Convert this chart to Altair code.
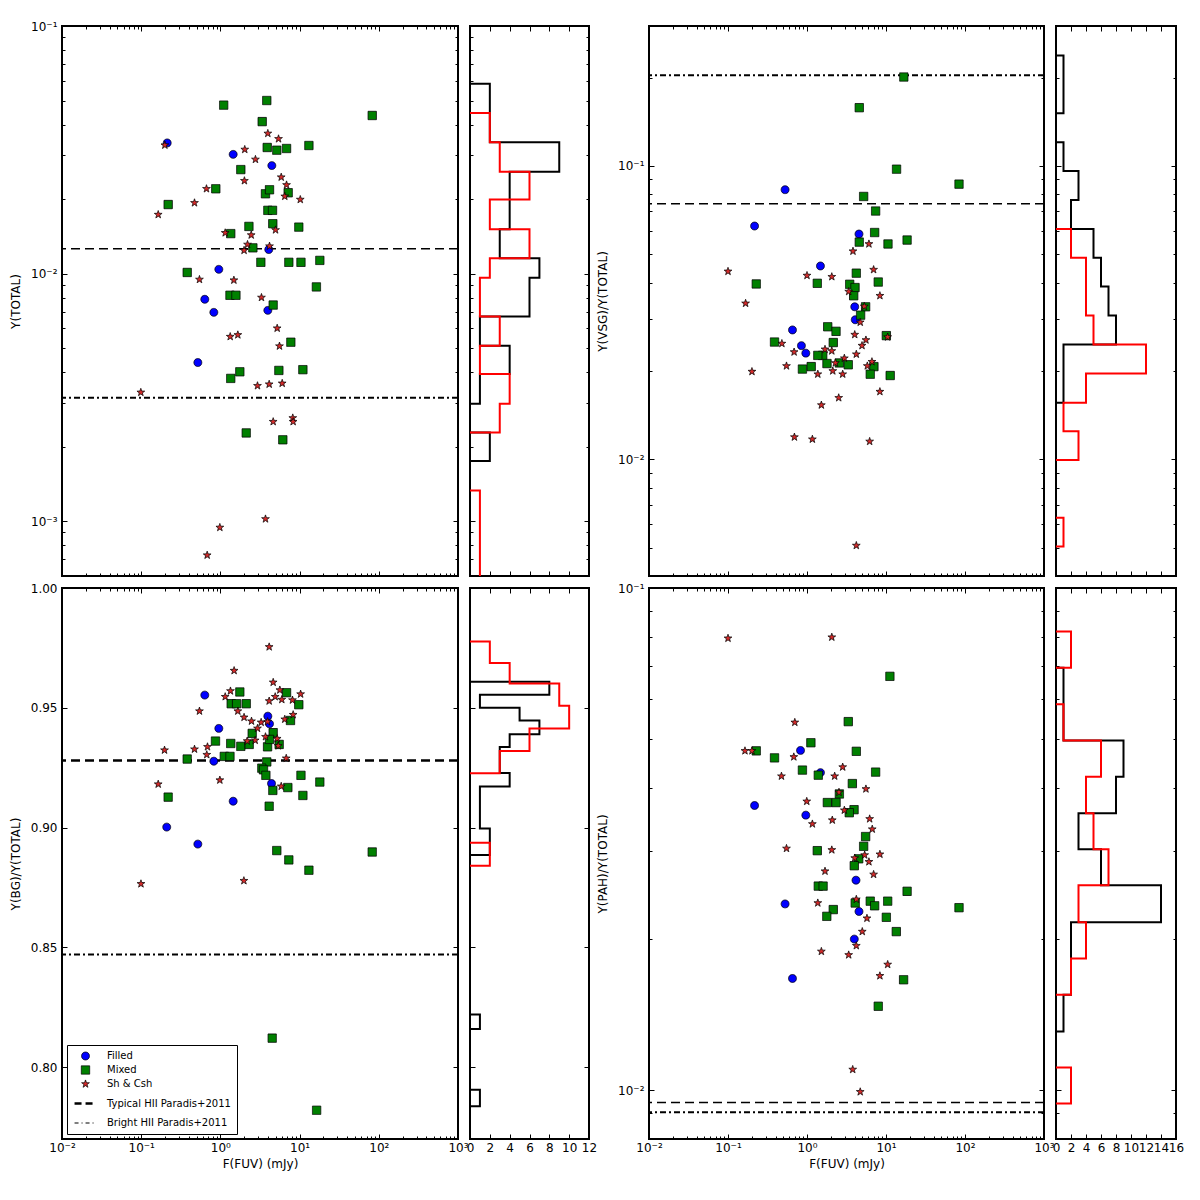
import altair as alt
import pandas as pd

# ---------------- categories / styles ----------------
SERIES = ["Filled", "Mixed", "Sh & Csh", "Typical HII Paradis+2011", "Bright HII Paradis+2011"]
COLORS = ["#0000ff", "#008000", "#d42a2a", "#000000", "#000000"]
STAR = ("M0,-1L0.235,-0.324L0.951,-0.309L0.38,0.124L0.588,0.809L0,0.4"
        "L-0.588,0.809L-0.38,0.124L-0.951,-0.309L-0.235,-0.324Z")
SHAPES = ["circle", "square", STAR, "stroke", "stroke"]
SIZES = [62, 70, 66, 480, 480]
EDGE_W = [0.8, 0.8, 0.8, 2.5, 1.2]
DASHES = [[1, 0], [1, 0], [1, 0], [7, 4], [4, 3, 1, 3]]

# ---------------- panel 1 : Y(TOTAL) ----------------
tl_filled_x = [0.213, 1.45, 4.46, 4.08, 0.955, 0.635, 0.826, 3.97, 0.519]
tl_filled_y = [0.0337, 0.0303, 0.0273, 0.0125, 0.0104, 0.00787, 0.00697, 0.00710, 0.00437]
tl_mixed_x = [1.10, 3.85, 82.6, 3.37, 3.90, 5.15, 6.84, 13.1, 1.81, 0.875, 0.219, 3.71, 4.17,
              7.18, 3.97, 4.55, 4.59, 2.29, 9.77, 1.35, 2.57, 3.24, 7.31, 10.4, 18.0, 0.381,
              16.3, 1.32, 1.57, 4.64, 7.75, 1.76, 1.35, 5.47, 11.0, 2.12, 6.14]
tl_mixed_y = [0.0479, 0.0500, 0.0435, 0.0411, 0.0323, 0.0315, 0.0320, 0.0329, 0.0263, 0.0220,
              0.0190, 0.0210, 0.0218, 0.0212, 0.0180, 0.0180, 0.0159, 0.0155, 0.0154, 0.0145,
              0.0127, 0.0111, 0.0111, 0.0111, 0.0113, 0.0101, 0.00883, 0.00817, 0.00817,
              0.00746, 0.00528, 0.00401, 0.00377, 0.00406, 0.00409, 0.00227, 0.00213]
tl_sh_x = [0.199, 3.97, 5.42, 2.03, 2.77, 5.86, 2.01, 6.84, 0.667, 6.50, 10.2, 0.471, 0.164,
           1.15, 4.97, 2.45, 2.20, 1.99, 4.17, 0.544, 1.48, 3.30, 5.21, 1.33, 1.66, 5.57, 2.94,
           4.13, 6.03, 0.0989, 4.64, 8.20, 8.29, 3.71, 0.984, 0.681]
tl_sh_y = [0.0330, 0.0368, 0.0350, 0.0317, 0.0289, 0.0245, 0.0237, 0.0228, 0.0220, 0.0205,
           0.0199, 0.0193, 0.0173, 0.0146, 0.0150, 0.0143, 0.0131, 0.0124, 0.0129, 0.00946,
           0.00940, 0.00800, 0.00601, 0.00556, 0.00565, 0.00509, 0.00352, 0.00357, 0.00360,
           0.00331, 0.00252, 0.00261, 0.00252, 0.00102, 0.000942, 0.000728]
tl_lines = [0.0126, 0.00315]
tl_hist_edges = [0.0585, 0.0445, 0.0339, 0.0258, 0.0199, 0.0151, 0.01153, 0.00961, 0.00670,
                 0.00511, 0.00393, 0.00298, 0.00228, 0.00175, 0.00133, 0.0005]
tl_hist_black = [2, 2, 9, 4, 4, 3, 7, 6, 1, 4, 1, 0, 2, 0, 0]
tl_hist_red = [0, 2, 3, 6, 2, 6, 2, 1, 3, 1, 4, 3, 0, 0, 1]

# ---------------- panel 2 : Y(VSG)/Y(TOTAL) ----------------
tr_filled_x = [0.528, 0.217, 4.55, 1.48, 4.02, 4.08, 0.655, 0.850, 0.966]
tr_filled_y = [0.0830, 0.0624, 0.0586, 0.0456, 0.0331, 0.0299, 0.0276, 0.0244, 0.0230]
tr_mixed_x = [16.8, 4.59, 13.6, 84.0, 5.21, 7.39, 7.18, 4.59, 10.6, 18.5, 4.21, 7.98, 0.228,
              1.35, 3.47, 4.05, 3.90, 5.52, 4.77, 10.1, 1.83, 2.33, 0.388, 2.15, 1.58, 1.37,
              0.875, 1.13, 1.79, 2.57, 3.33, 7.03, 6.32, 11.3]
tr_mixed_y = [0.201, 0.158, 0.0975, 0.0867, 0.0787, 0.0702, 0.0593, 0.0550, 0.0542, 0.0559,
              0.0431, 0.0402, 0.0396, 0.0398, 0.0395, 0.0385, 0.0361, 0.0331, 0.0310, 0.0264,
              0.0283, 0.0273, 0.0251, 0.0250, 0.0226, 0.0226, 0.0203, 0.0207, 0.0212, 0.0213,
              0.0210, 0.0207, 0.0195, 0.0193]
tr_sh_x = [0.100, 0.167, 6.08, 3.82, 6.97, 1.00, 2.06, 3.37, 8.37, 5.31, 4.72, 4.02, 10.5, 5.57,
           4.97, 0.481, 0.687, 1.69, 2.06, 4.21, 2.97, 0.550, 0.201, 2.29, 2.12, 1.37, 2.83,
           6.64, 5.80, 8.37, 2.52, 1.52, 0.693, 1.17, 6.21, 4.21]
tr_sh_y = [0.0437, 0.0340, 0.0542, 0.0512, 0.0443, 0.0423, 0.0419, 0.0373, 0.0361, 0.0332,
           0.0293, 0.0266, 0.0261, 0.0255, 0.0244, 0.0248, 0.0232, 0.0237, 0.0234, 0.0228,
           0.0221, 0.0208, 0.0199, 0.0213, 0.0200, 0.0195, 0.0195, 0.0215, 0.0208, 0.0170,
           0.0162, 0.0153, 0.0119, 0.0117, 0.0115, 0.00508]
tr_lines = [0.0743, 0.204]
tr_hist_edges = [0.2379, 0.1897, 0.1512, 0.1205, 0.0961, 0.0766, 0.0610, 0.0486, 0.0388,
                 0.0309, 0.0246, 0.0196, 0.0156, 0.01247, 0.00994, 0.00793, 0.00632, 0.00504]
tr_hist_black = [1, 1, 0, 1, 3, 2, 5, 6, 7, 8, 1, 1, 0, 0, 0, 0, 0]
tr_hist_red = [0, 0, 0, 0, 0, 0, 2, 4, 4, 5, 12, 4, 1, 3, 0, 0, 1]

# ---------------- panel 3 : Y(BG)/Y(TOTAL) ----------------
bl_filled_x = [0.635, 3.97, 4.17, 0.955, 0.826, 4.42, 1.45, 0.210, 0.519]
bl_filled_y = [0.9553, 0.9465, 0.9433, 0.9414, 0.9277, 0.9184, 0.9110, 0.9002, 0.8931]
bl_mixed_x = [1.76, 6.84, 1.37, 1.60, 2.12, 9.77, 7.67, 4.64, 2.52, 0.867, 1.35, 1.81, 2.31,
              3.94, 5.52, 4.17, 1.12, 1.32, 0.381, 3.85, 3.33, 3.50, 3.75, 10.4, 18.0, 7.10,
              4.59, 11.0, 0.219, 4.13, 5.15, 82.6, 7.31, 13.1, 4.51, 16.4]
bl_mixed_y = [0.9566, 0.9563, 0.9517, 0.9517, 0.9517, 0.9513, 0.9447, 0.9396, 0.9393, 0.9361,
              0.9351, 0.9339, 0.9347, 0.9337, 0.9347, 0.9368, 0.9297, 0.9297, 0.9286, 0.9274,
              0.9248, 0.9241, 0.9218, 0.9218, 0.9190, 0.9167, 0.9155, 0.9134, 0.9127, 0.9089,
              0.8904, 0.8898, 0.8865, 0.8822, 0.8121, 0.782]
bl_sh_x = [4.13, 1.49, 4.64, 1.34, 1.15, 5.63, 10.3, 4.92, 4.13, 5.96, 8.13, 0.544, 1.66, 1.99,
           2.47, 3.27, 3.94, 6.50, 8.29, 2.94, 3.71, 5.21, 5.37, 2.75, 2.18, 0.197, 0.471,
           0.687, 0.673, 6.78, 0.164, 0.984, 5.86, 0.0993, 1.98]
bl_sh_y = [0.9754, 0.9655, 0.9606, 0.9570, 0.9546, 0.9574, 0.9557, 0.9546, 0.9528, 0.9534,
           0.9532, 0.9486, 0.9486, 0.9460, 0.9444, 0.9439, 0.9442, 0.9452, 0.9471, 0.9414,
           0.9379, 0.9371, 0.9341, 0.9364, 0.9361, 0.9323, 0.9327, 0.9337, 0.9304, 0.9289,
           0.9181, 0.9198, 0.9172, 0.8765, 0.8778]
bl_lines = [0.928, 0.847]
bl_hist_black_edges = [0.9609, 0.9554, 0.9500, 0.9447, 0.9389, 0.9336, 0.9282, 0.9228, 0.9171,
                       0.9114, 0.9056, 0.8996, 0.8942, 0.8886, 0.8220, 0.8159, 0.7906, 0.7837]
bl_hist_black = [8, 1, 5, 7, 4, 3, 3, 4, 1, 1, 1, 2, 2, 0, 1, 0, 1]
bl_hist_red_edges = [0.9777, 0.9687, 0.9601, 0.9508, 0.9414, 0.9320, 0.9227, 0.8937, 0.8841]
bl_hist_red = [2, 4, 9, 10, 6, 3, 0, 2]

# ---------------- panel 4 : Y(PAH)/Y(TOTAL) ----------------
br_filled_x = [0.828, 1.48, 0.217, 0.966, 4.17, 0.528, 4.55, 3.97, 0.655]
br_filled_y = [0.0475, 0.0429, 0.0369, 0.0353, 0.0262, 0.0235, 0.0227, 0.0200, 0.0167]
br_mixed_x = [11.2, 3.33, 1.12, 0.228, 0.388, 4.21, 0.875, 1.39, 7.39, 3.75, 2.57, 1.81, 2.33,
              3.94, 3.43, 5.52, 5.21, 1.35, 4.51, 3.97, 1.39, 1.60, 18.5, 4.08, 6.32, 7.18,
              10.5, 84.0, 2.15, 1.78, 10.1, 13.5, 16.7, 7.98]
br_mixed_y = [0.0667, 0.0542, 0.0492, 0.0474, 0.0459, 0.0473, 0.0434, 0.0424, 0.0430, 0.0408,
              0.0389, 0.0374, 0.0374, 0.0362, 0.0357, 0.0320, 0.0306, 0.0300, 0.0289, 0.0280,
              0.0255, 0.0255, 0.0249, 0.0236, 0.0238, 0.0233, 0.0238, 0.0231, 0.0229, 0.0222,
              0.0221, 0.0207, 0.0166, 0.0147]
br_sh_x = [0.100, 2.06, 0.701, 0.164, 0.201, 0.681, 2.83, 0.475, 2.24, 5.57, 2.54, 0.993, 2.97,
           6.21, 6.70, 1.17, 2.09, 0.550, 2.06, 8.37, 5.37, 4.02, 6.08, 1.69, 6.97, 1.37, 4.21,
           5.74, 5.01, 4.21, 1.52, 3.37, 10.5, 8.37, 3.79, 4.72]
br_sh_y = [0.0794, 0.0798, 0.0540, 0.0474, 0.0474, 0.0461, 0.0440, 0.0422, 0.0422, 0.0398,
           0.0392, 0.0376, 0.0361, 0.0347, 0.0331, 0.0339, 0.0345, 0.0303, 0.0301, 0.0295,
           0.0294, 0.0290, 0.0285, 0.0273, 0.0269, 0.0236, 0.0240, 0.0220, 0.0207, 0.0194,
           0.0189, 0.0186, 0.0178, 0.0169, 0.0110, 0.00993]
br_lines = [0.00946, 0.00904]
br_hist_edges = [0.0819, 0.0694, 0.0587, 0.0497, 0.0421, 0.0356, 0.0302, 0.0256, 0.0216,
                 0.0183, 0.0155, 0.0131, 0.0111, 0.00941]
br_hist_black = [0, 1, 1, 9, 8, 3, 6, 14, 2, 2, 1, 0, 0]
br_hist_red = [2, 0, 1, 6, 4, 5, 7, 3, 4, 2, 0, 0, 2]

# ---------------- axis tick positions ----------------
X_MAJOR = [0.01, 0.1, 1, 10, 100, 1000]
X_MINOR = [k * 10.0 ** d for d in range(-2, 3) for k in range(2, 10)]
TL_Y_MAJOR = [0.001, 0.01, 0.1]
TL_Y_MINOR = [0.0006, 0.0007, 0.0008, 0.0009] + [k * 0.001 for k in range(2, 10)] + [k * 0.01 for k in range(2, 10)]
TR_Y_MAJOR = [0.01, 0.1]
TR_Y_MINOR = [k * 0.001 for k in range(4, 10)] + [k * 0.01 for k in range(2, 10)] + [0.2]
BR_Y_MAJOR = [0.01, 0.1]
BR_Y_MINOR = [0.008, 0.009] + [k * 0.01 for k in range(2, 10)]
BL_Y_MAJOR = [0.80, 0.85, 0.90, 0.95, 1.00]

POW = ("datum.value < 0.005 ? '10\u207b\u00b3' : datum.value < 0.05 ? '10\u207b\u00b2' : "
       "datum.value < 0.5 ? '10\u207b\u00b9' : datum.value < 5 ? '10\u2070' : "
       "datum.value < 50 ? '10\u00b9' : datum.value < 500 ? '10\u00b2' : '10\u00b3'")

FONT = "DejaVu Sans"

LEG = alt.Legend(title=None, orient="bottom-left", offset=5, padding=6, strokeColor="black",
                 fillColor="white", labelFontSize=10, labelFont=FONT, labelColor="black",
                 labelLimit=400, labelOffset=9, rowPadding=2, cornerRadius=0)


def axis(orient, values, L, labels=False, title=None, expr=None, fmt=None, lpad=4, tpad=6):
    kw = dict(orient=orient, values=values, offset=-L, tickSize=L, tickWidth=1,
              tickColor="black", domain=False, grid=False, labels=labels, labelFlush=False,
              labelOverlap=False, labelPadding=lpad, title=title)
    if title is not None:
        kw["titlePadding"] = tpad
    if expr:
        kw["labelExpr"] = expr
    if fmt:
        kw["format"] = fmt
    return alt.Axis(**kw)


def axis_layers(df, xf, yf, xsc, ysc, xmaj, xmin, ymaj, ymin, xlab, ylab, xtitle, ytitle,
                xexpr, xfmt, yexpr, yfmt):
    specs = [
        (axis("bottom", xmaj, 5, xlab, xtitle, xexpr, xfmt, 3, 5),
         axis("left", ymaj, 5, ylab, ytitle, yexpr, yfmt, 5, 8)),
        (axis("bottom", xmin, 3) if xmin else None, axis("left", ymin, 3) if ymin else None),
        (axis("top", xmaj, 5), axis("right", ymaj, 5)),
        (axis("top", xmin, 3) if xmin else None, axis("right", ymin, 3) if ymin else None),
    ]
    out = []
    for ax_x, ax_y in specs:
        if ax_x is None and ax_y is None:
            continue
        out.append(alt.Chart(df).mark_point(opacity=0).encode(
            x=alt.X(f"{xf}:Q", scale=xsc, axis=ax_x),
            y=alt.Y(f"{yf}:Q", scale=ysc, axis=ax_y)))
    return out


def points_df(fx, fy, mx, my, sx, sy):
    rows = []
    for xs_, ys_, s in ((fx, fy, SERIES[0]), (mx, my, SERIES[1]), (sx, sy, SERIES[2])):
        rows += [{"x": a, "y": b, "series": s} for a, b in zip(xs_, ys_)]
    return pd.DataFrame(rows)


def scatter(pdf, lines, line_styles, ysc, ymaj, ymin, yexpr, yfmt, ytitle, bottom, legend, W, H):
    xsc = alt.Scale(type="log", domain=[0.01, 1000], nice=False)
    layers = axis_layers(pdf, "x", "y", xsc, ysc, X_MAJOR, X_MINOR, ymaj, ymin,
                         bottom, True, "F(FUV) (mJy)" if bottom else None, ytitle,
                         POW if bottom else None, None, yexpr, yfmt)
    for v, (dash, lw) in zip(lines, line_styles):
        layers.append(alt.Chart(pd.DataFrame({"v": [v]})).mark_rule(
            color="black", strokeDash=dash, strokeWidth=lw).encode(
            y=alt.Y("v:Q", scale=ysc, axis=None)))
    layers.append(alt.Chart(pdf).mark_point(filled=True, stroke="black", opacity=1).encode(
        x=alt.X("x:Q", scale=xsc, axis=None),
        y=alt.Y("y:Q", scale=ysc, axis=None),
        color=alt.Color("series:N", scale=alt.Scale(domain=SERIES, range=COLORS), legend=legend),
        shape=alt.Shape("series:N", scale=alt.Scale(domain=SERIES, range=SHAPES), legend=legend),
        size=alt.Size("series:N", scale=alt.Scale(type="ordinal", domain=SERIES, range=SIZES), legend=legend),
        strokeWidth=alt.StrokeWidth("series:N", scale=alt.Scale(type="ordinal", domain=SERIES, range=EDGE_W), legend=legend),
        strokeDash=alt.StrokeDash("series:N", scale=alt.Scale(domain=SERIES, range=DASHES), legend=legend),
    ))
    return alt.layer(*layers).resolve_axis(x="independent", y="independent").properties(width=W, height=H)


def step_df(edges, counts):
    rows, g, i, k, n = [], 0, 0, 0, len(counts)
    while k < n:
        if counts[k] == 0:
            k += 1
            continue
        pts = [(0, edges[k])]
        while k < n and counts[k] != 0:
            pts += [(counts[k], edges[k]), (counts[k], edges[k + 1])]
            k += 1
        pts.append((0, edges[k]))
        for c, v in pts:
            rows.append({"c": c, "v": v, "i": i, "g": g})
            i += 1
        g += 1
    return pd.DataFrame(rows)


def hist(be, bc, re_, rc, ysc, ymaj, ymin, xmax, bottom, W, H):
    hx = alt.Scale(domain=[0, xmax], nice=False, zero=True)
    bdf, rdf = step_df(be, bc), step_df(re_, rc)
    layers = axis_layers(bdf, "c", "v", hx, ysc, list(range(0, xmax + 1, 2)), [], ymaj, ymin,
                         bottom, False, None, None, None, "d", None, None)
    for df, col in ((bdf, "black"), (rdf, "#ff0000")):
        layers.append(alt.Chart(df).mark_line(color=col, strokeWidth=2, clip=True,
                                              strokeJoin="miter").encode(
            x=alt.X("c:Q", scale=hx, axis=None),
            y=alt.Y("v:Q", scale=ysc, axis=None),
            detail="g:N",
            order=alt.Order("i:Q")))
    return alt.layer(*layers).resolve_axis(x="independent", y="independent").properties(width=W, height=H)


def spacer(H):
    return alt.Chart(pd.DataFrame({"a": [0]})).mark_point(opacity=0).encode(
        x=alt.X("a:Q", axis=None), y=alt.Y("a:Q", axis=None)).properties(
        width=36, height=H, view=alt.ViewBackground(strokeOpacity=0))


THIN_DASH = ([9, 5], 1.4)
DASHDOT = ([6, 3, 2, 3], 2.0)
THICK_DASH = ([9, 5], 2.5)

sc_tl = alt.Scale(type="log", domain=[0.0006, 0.1], nice=False)
sc_tr = alt.Scale(type="log", domain=[0.004, 0.3], nice=False)
sc_bl = alt.Scale(domain=[0.77, 1.0], nice=False, zero=False)
sc_br = alt.Scale(type="log", domain=[0.008, 0.1], nice=False)

p_tl = scatter(points_df(tl_filled_x, tl_filled_y, tl_mixed_x, tl_mixed_y, tl_sh_x, tl_sh_y),
               tl_lines, [THIN_DASH, DASHDOT], sc_tl, TL_Y_MAJOR, TL_Y_MINOR, POW, None,
               "Y(TOTAL)", False, None, 396, 550)
h_tl = hist(tl_hist_edges, tl_hist_black, tl_hist_edges, tl_hist_red, sc_tl, TL_Y_MAJOR,
            TL_Y_MINOR, 12, False, 119, 550)
p_tr = scatter(points_df(tr_filled_x, tr_filled_y, tr_mixed_x, tr_mixed_y, tr_sh_x, tr_sh_y),
               tr_lines, [THIN_DASH, DASHDOT], sc_tr, TR_Y_MAJOR, TR_Y_MINOR, POW, None,
               "Y(VSG)/Y(TOTAL)", False, None, 395, 550)
h_tr = hist(tr_hist_edges, tr_hist_black, tr_hist_edges, tr_hist_red, sc_tr, TR_Y_MAJOR,
            TR_Y_MINOR, 16, False, 120, 550)
p_bl = scatter(points_df(bl_filled_x, bl_filled_y, bl_mixed_x, bl_mixed_y, bl_sh_x, bl_sh_y),
               bl_lines, [THICK_DASH, DASHDOT], sc_bl, BL_Y_MAJOR, [], None, ".2f",
               "Y(BG)/Y(TOTAL)", True, LEG, 396, 551)
h_bl = hist(bl_hist_black_edges, bl_hist_black, bl_hist_red_edges, bl_hist_red, sc_bl,
            BL_Y_MAJOR, [], 12, True, 119, 551)
p_br = scatter(points_df(br_filled_x, br_filled_y, br_mixed_x, br_mixed_y, br_sh_x, br_sh_y),
               br_lines, [THIN_DASH, DASHDOT], sc_br, BR_Y_MAJOR, BR_Y_MINOR, POW, None,
               "Y(PAH)/Y(TOTAL)", True, None, 395, 551)
h_br = hist(br_hist_edges, br_hist_black, br_hist_edges, br_hist_red, sc_br, BR_Y_MAJOR,
            BR_Y_MINOR, 16, True, 120, 551)

IND = dict(color="independent", shape="independent", size="independent",
           strokeWidth="independent", strokeDash="independent")

chart = alt.concat(p_tl, h_tl, spacer(550), p_tr, h_tr,
                   p_bl, h_bl, spacer(551), p_br, h_br,
                   columns=5, spacing=12, bounds="flush",
                   padding={"left": 0, "top": 11, "right": 5, "bottom": 5}
                   ).resolve_scale(**IND).resolve_legend(**IND)

chart = chart.configure_view(stroke="black", strokeWidth=2).configure_axis(
    labelFont=FONT, titleFont=FONT, labelFontSize=12, titleFontSize=12,
    titleFontWeight="normal", labelColor="black", titleColor="black")

chart.save("out.html", embed_options={"renderer": "svg", "actions": False})
